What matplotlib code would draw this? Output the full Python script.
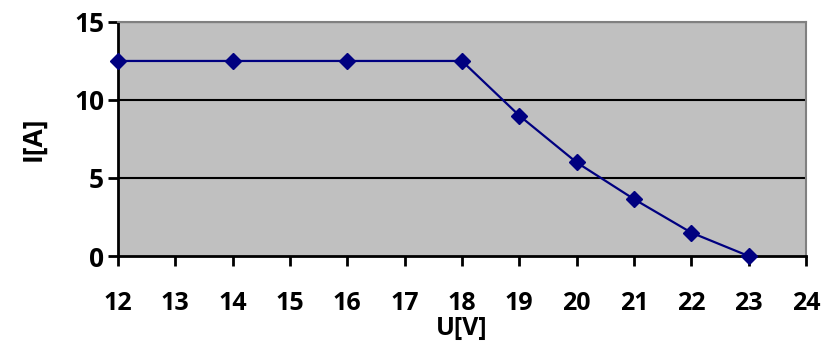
import matplotlib.pyplot as plt

# U-I characteristic
u_volts = [12, 14, 16, 18, 19, 20, 21, 22, 23]
i_amps = [12.5, 12.5, 12.5, 12.5, 9.0, 6.0, 3.65, 1.5, 0.0]
x_ticks = list(range(12, 25))
y_ticks = [0, 5, 10, 15]

plt.rcParams['font.family'] = ['Open Sans', 'DejaVu Sans']
plt.rcParams['font.weight'] = 'bold'

fig = plt.figure(figsize=(8.24, 3.43), dpi=100)
ax = fig.add_axes([0.1432, 0.2536, 0.8348, 0.6824])
ax.set_facecolor('#c0c0c0')

ax.plot(u_volts, i_amps, color='#000080', linewidth=1.6, marker='D',
        markersize=8, clip_on=False, zorder=5)

ax.set_xlim(12, 24)
ax.set_ylim(0, 15)
ax.set_xticks(x_ticks)
ax.set_yticks(y_ticks)

for y in y_ticks[1:]:
    ax.axhline(y, color='black', linewidth=1.5, zorder=1)

for side in ['left', 'bottom']:
    ax.spines[side].set_linewidth(2)
    ax.spines[side].set_color('black')
for side in ['right', 'top']:
    ax.spines[side].set_linewidth(1.5)
    ax.spines[side].set_color('#808080')

ax.tick_params(axis='x', direction='out', length=7, width=2, pad=18, labelsize=18)
ax.tick_params(axis='y', direction='out', length=7, width=2, pad=3, labelsize=19)

ax.set_xlabel('U[V]', fontsize=18, fontweight='bold', labelpad=0)
ax.set_ylabel('I[A]', fontsize=19, fontweight='bold', labelpad=20)

fig.savefig('out.png', dpi=100)
